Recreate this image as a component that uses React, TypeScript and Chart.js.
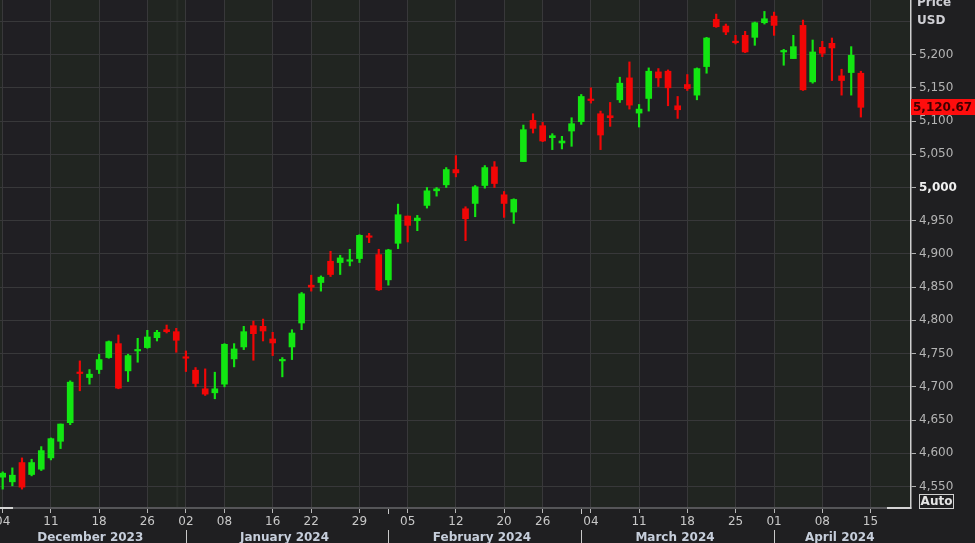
import React, { useEffect, useRef } from 'react';
import { Chart, registerables } from 'chart.js';

Chart.register(...registerables);

// ---- Data (S&P 500 daily candles, 4 Dec 2023 – 12 Apr 2024; x = trading-day index) ----
const opens = [
  4564, 4557, 4586, 4568, 4576, 4593, 4618, 4646, 4721, 4714,
  4726, 4744, 4765, 4724, 4754, 4759, 4774, 4786, 4783, 4745,
  4725, 4697, 4691, 4704, 4742, 4760, 4792, 4791, 4772, 4739,
  4760, 4796, 4853, 4857, 4889, 4887, 4889, 4893, 4926, 4899,
  4861, 4916, 4957, 4950, 4973, 4995, 5004, 5027, 4968, 4976,
  5003, 5031, 4989, 4963, 5039, 5101, 5093, 5075, 5067, 5085,
  5099, 5131.5, 5111, 5108, 5132, 5165, 5112, 5134, 5174, 5175,
  5123, 5155, 5139, 5182, 5253, 5243, 5220, 5229, 5226, 5248,
  5258, 5204, 5194, 5244, 5159, 5211, 5217, 5168, 5173, 5172,
];
const highs = [
  4572, 4578, 4593, 4591, 4610, 4623, 4644, 4709, 4739, 4726,
  4749, 4769, 4778, 4749, 4773, 4785, 4785, 4793, 4788, 4754,
  4729, 4727, 4722, 4765, 4765, 4791, 4799, 4802, 4782, 4744,
  4786, 4842, 4868, 4867, 4904, 4898, 4907, 4929, 4931, 4907,
  4907, 4975, 4957, 4958, 5000, 5000, 5030, 5048, 4971, 5003,
  5033, 5039, 4994, 4983, 5094, 5111, 5098, 5081, 5077, 5105,
  5140, 5150, 5115, 5128, 5166, 5189, 5125, 5180, 5179, 5177,
  5137, 5170, 5180, 5226, 5261, 5246, 5229, 5235, 5249, 5265,
  5264, 5208, 5229, 5252, 5222, 5220, 5225, 5178, 5212, 5175,
];
const lows = [
  4546, 4551, 4546, 4566, 4574, 4590, 4607, 4643, 4694, 4704,
  4720, 4743, 4697, 4708, 4737, 4758, 4769, 4781, 4752, 4723,
  4700, 4687, 4682, 4700, 4730, 4756, 4740, 4769, 4747, 4715,
  4741, 4786, 4844, 4844, 4866, 4869, 4882, 4887, 4917, 4845,
  4853, 4908, 4918, 4935, 4969, 4987, 5000, 5016, 4920, 4956,
  4999, 5000, 4955, 4946, 5039, 5082, 5069, 5057, 5058, 5062,
  5095, 5127, 5057, 5092, 5128, 5118, 5091, 5115, 5152, 5123,
  5104, 5146, 5132, 5172, 5241, 5230, 5216, 5203, 5214, 5246,
  5229, 5184, 5194, 5146, 5157, 5197, 5161, 5139, 5139, 5106,
];
const closes = [
  4570, 4567, 4549, 4586, 4604, 4622, 4644, 4707, 4720, 4719,
  4741, 4768, 4698, 4747, 4755, 4775, 4782, 4783, 4770, 4743,
  4705, 4689, 4697, 4764, 4757, 4783, 4780, 4784, 4766, 4739.5,
  4781, 4840, 4850, 4865, 4869, 4894, 4891, 4928, 4925, 4846,
  4906, 4959, 4943, 4954, 4995, 4998, 5027, 5022, 4953, 5001,
  5030, 5006, 4976, 4982, 5087, 5089, 5070, 5078, 5070, 5096,
  5137, 5130.9, 5079, 5105, 5157, 5124, 5118, 5175, 5165, 5150,
  5117, 5149, 5179, 5225, 5242, 5234, 5218, 5204, 5248, 5254,
  5244, 5206, 5212, 5147, 5204, 5202, 5210, 5161, 5199, 5120.67,
];

// Weekly ticks (trading-day index) and their labels
const tickIndex = [0, 5, 10, 15, 19, 23, 28, 32, 37, 42, 47, 52, 56, 61, 66, 71, 76, 80, 85, 90];
const tickLabels = ['04', '11', '18', '26', '02', '08', '16', '22', '29', '05', '12', '20', '26', '04', '11', '18', '25', '01', '08', '15'];

// Months
const monthLabels = ['December 2023', 'January 2024', 'February 2024', 'March 2024', 'April 2024'];
const monthStarts = [19, 40, 60, 80];
const yearBreak = 18;

// Price axis
const yTicks = [4550, 4600, 4650, 4700, 4750, 4800, 4850, 4900, 4950, 5000, 5050, 5100, 5150, 5200, 5250];
const yMin = 4517.6;
const yMax = 5282.2;
const xMin = -0.28;
const xMax = 94.2;
const lastPrice = 5120.67;
const axisTitle = ['Price', 'USD'];
const autoLabel = 'Auto';

const GREEN = '#12e612';
const RED = '#f20606';
const FONT = '"DejaVu Sans", Verdana, sans-serif';

export default function App() {
  const ref = useRef<HTMLCanvasElement | null>(null);

  useEffect(() => {
    const canvas = ref.current;
    if (!canvas) return;

    const colors = closes.map((c, i) => (c >= opens[i] ? GREEN : RED));
    const wickData = lows.map((l, i) => ({ x: i, y: [l, highs[i]] }));
    const bodyData = opens.map((o, i) => ({ x: i, y: [o, closes[i]] }));

    const decorPlugin = {
      id: 'decor',
      beforeDraw(chart: any) {
        const { ctx, chartArea, scales } = chart;
        const xs = scales.x;
        ctx.save();
        ctx.fillStyle = '#1f1f21';
        ctx.fillRect(0, 0, chart.width, chart.height);
        // alternating weekly bands
        const edges = [chartArea.left, ...tickIndex.map((v) => xs.getPixelForValue(v)), chartArea.right];
        for (let i = 0; i < edges.length - 1; i++) {
          const green = i % 2 === 0;
          ctx.fillStyle = green ? '#212521' : '#201f23';
          const a = Math.max(edges[i], chartArea.left);
          const b = Math.min(edges[i + 1], chartArea.right);
          if (b > a) ctx.fillRect(a, chartArea.top, b - a, chartArea.bottom - chartArea.top);
        }
        // year break line
        const yb = xs.getPixelForValue(yearBreak) + 1;
        ctx.fillStyle = '#2a2e2a';
        ctx.fillRect(yb - 1, chartArea.top, 2, chartArea.bottom - chartArea.top);
        ctx.restore();
      },
      afterDraw(chart: any) {
        const { ctx, chartArea, scales } = chart;
        const xs = scales.x;
        const ys = scales.y;
        ctx.save();
        // scroll thumb ends on the time axis
        ctx.fillStyle = '#d4d4d4';
        ctx.fillRect(chartArea.left, chartArea.bottom - 1, 13, 2);
        ctx.fillRect(chartArea.right - 24, chartArea.bottom - 1, 24, 2);
        // month separators + labels
        ctx.strokeStyle = '#c8c8c8';
        ctx.lineWidth = 1;
        const seps = monthStarts.map((v) => Math.round(xs.getPixelForValue(v)) + 0.5);
        seps.forEach((px, i) => {
          ctx.beginPath();
          ctx.moveTo(px, chart.height - 13);
          ctx.lineTo(px, chart.height);
          ctx.stroke();
          if (!tickIndex.includes(monthStarts[i])) {
            ctx.beginPath();
            ctx.moveTo(px, chartArea.bottom + 1);
            ctx.lineTo(px, chartArea.bottom + 6);
            ctx.stroke();
          }
        });
        const bounds = [chartArea.left, ...seps, chartArea.right];
        ctx.font = `bold 12px ${FONT}`;
        ctx.fillStyle = '#c6cedb';
        ctx.textAlign = 'center';
        ctx.textBaseline = 'alphabetic';
        monthLabels.forEach((m, i) => {
          const cx = (bounds[i] + bounds[i + 1]) / 2 - 3;
          ctx.fillText(m, cx, chart.height - 2);
        });
        // axis title
        ctx.textAlign = 'left';
        ctx.fillStyle = '#cfcfd4';
        ctx.fillText(axisTitle[0], chartArea.right + 6, 6);
        ctx.fillText(axisTitle[1], chartArea.right + 6, 24);
        // last price tag
        const py = ys.getPixelForValue(lastPrice);
        ctx.fillStyle = '#ff0d0d';
        ctx.fillRect(chartArea.right, Math.round(py) - 8, chart.width - chartArea.right, 16);
        ctx.fillStyle = '#3f0000';
        ctx.textBaseline = 'middle';
        ctx.fillText(lastPrice.toLocaleString('en-US', { minimumFractionDigits: 2 }), chartArea.right + 2, Math.round(py) + 1);
        // Auto box
        ctx.strokeStyle = '#d0d0d0';
        ctx.strokeRect(chartArea.right + 8.5, chartArea.bottom - 13.5, 34, 14);
        ctx.fillStyle = '#e4e4e4';
        ctx.textAlign = 'center';
        ctx.fillText(autoLabel, chartArea.right + 25.5, chartArea.bottom - 6);
        ctx.restore();
      },
    };

    const chart = new Chart(canvas, {
      type: 'bar',
      data: {
        datasets: [
          {
            label: 'body',
            data: bodyData as any,
            backgroundColor: colors,
            barThickness: 6,
            minBarLength: 1.5,
            borderWidth: 0,
            grouped: false,
          } as any,
          {
            label: 'wick',
            data: wickData as any,
            backgroundColor: colors,
            barThickness: 1.5,
            borderWidth: 0,
            grouped: false,
          } as any,
        ],
      },
      plugins: [decorPlugin],
      options: {
        responsive: false,
        animation: false,
        events: [],
        layout: { padding: 0 },
        plugins: { legend: { display: false }, tooltip: { enabled: false } },
        scales: {
          x: {
            type: 'linear',
            position: 'bottom',
            min: xMin,
            max: xMax,
            offset: false,
            afterBuildTicks: (scale: any) => {
              scale.ticks = tickIndex.map((v) => ({ value: v }));
            },
            afterFit: (scale: any) => {
              scale.height = 35;
              scale.paddingLeft = 0;
              scale.paddingRight = 0;
            },
            grid: {
              offset: false,
              color: '#38383a',
              lineWidth: 1,
              drawTicks: true,
              tickLength: 5,
              tickColor: '#b8b8b8',
            },
            border: { display: true, color: '#555558', width: 2 },
            ticks: {
              autoSkip: false,
              maxRotation: 0,
              minRotation: 0,
              padding: 2,
              color: '#c8c8c8',
              font: { family: FONT, size: 12 },
              callback: (v: any) => {
                const k = tickIndex.indexOf(Number(v));
                return k >= 0 ? tickLabels[k] : '';
              },
            },
          },
          y: {
            type: 'linear',
            position: 'right',
            min: yMin,
            max: yMax,
            afterBuildTicks: (scale: any) => {
              scale.ticks = yTicks.map((v) => ({ value: v }));
            },
            afterFit: (scale: any) => {
              scale.width = 64;
              scale.paddingTop = 0;
              scale.paddingBottom = 0;
            },
            grid: {
              color: '#38383a',
              lineWidth: 1,
              drawTicks: true,
              tickLength: 5,
              tickColor: (ctx: any) => (ctx.tick && ctx.tick.value === 5250 ? 'rgba(0,0,0,0)' : '#b0b0b0'),
            },
            border: { display: true, color: '#cfcfcf', width: 1.5 },
            ticks: {
              padding: 3,
              color: (ctx: any) => (ctx.tick && ctx.tick.value === 5000 ? '#f0f0f0' : '#b4b4b4'),
              font: (ctx: any) =>
                ctx.tick && ctx.tick.value === 5000
                  ? { family: FONT, size: 12, weight: 'bold' }
                  : { family: FONT, size: 12 },
              callback: (v: any) => (Number(v) === 5250 ? '' : Number(v).toLocaleString('en-US')),
            },
          },
        },
      } as any,
    });

    return () => chart.destroy();
  }, []);

  return (
    <div style={{ position: 'fixed', left: 0, top: 0, width: 975, height: 543, background: '#1f1f21' }}>
      <canvas ref={ref} width={975} height={543} style={{ display: 'block', width: 975, height: 543 }} />
    </div>
  );
}
